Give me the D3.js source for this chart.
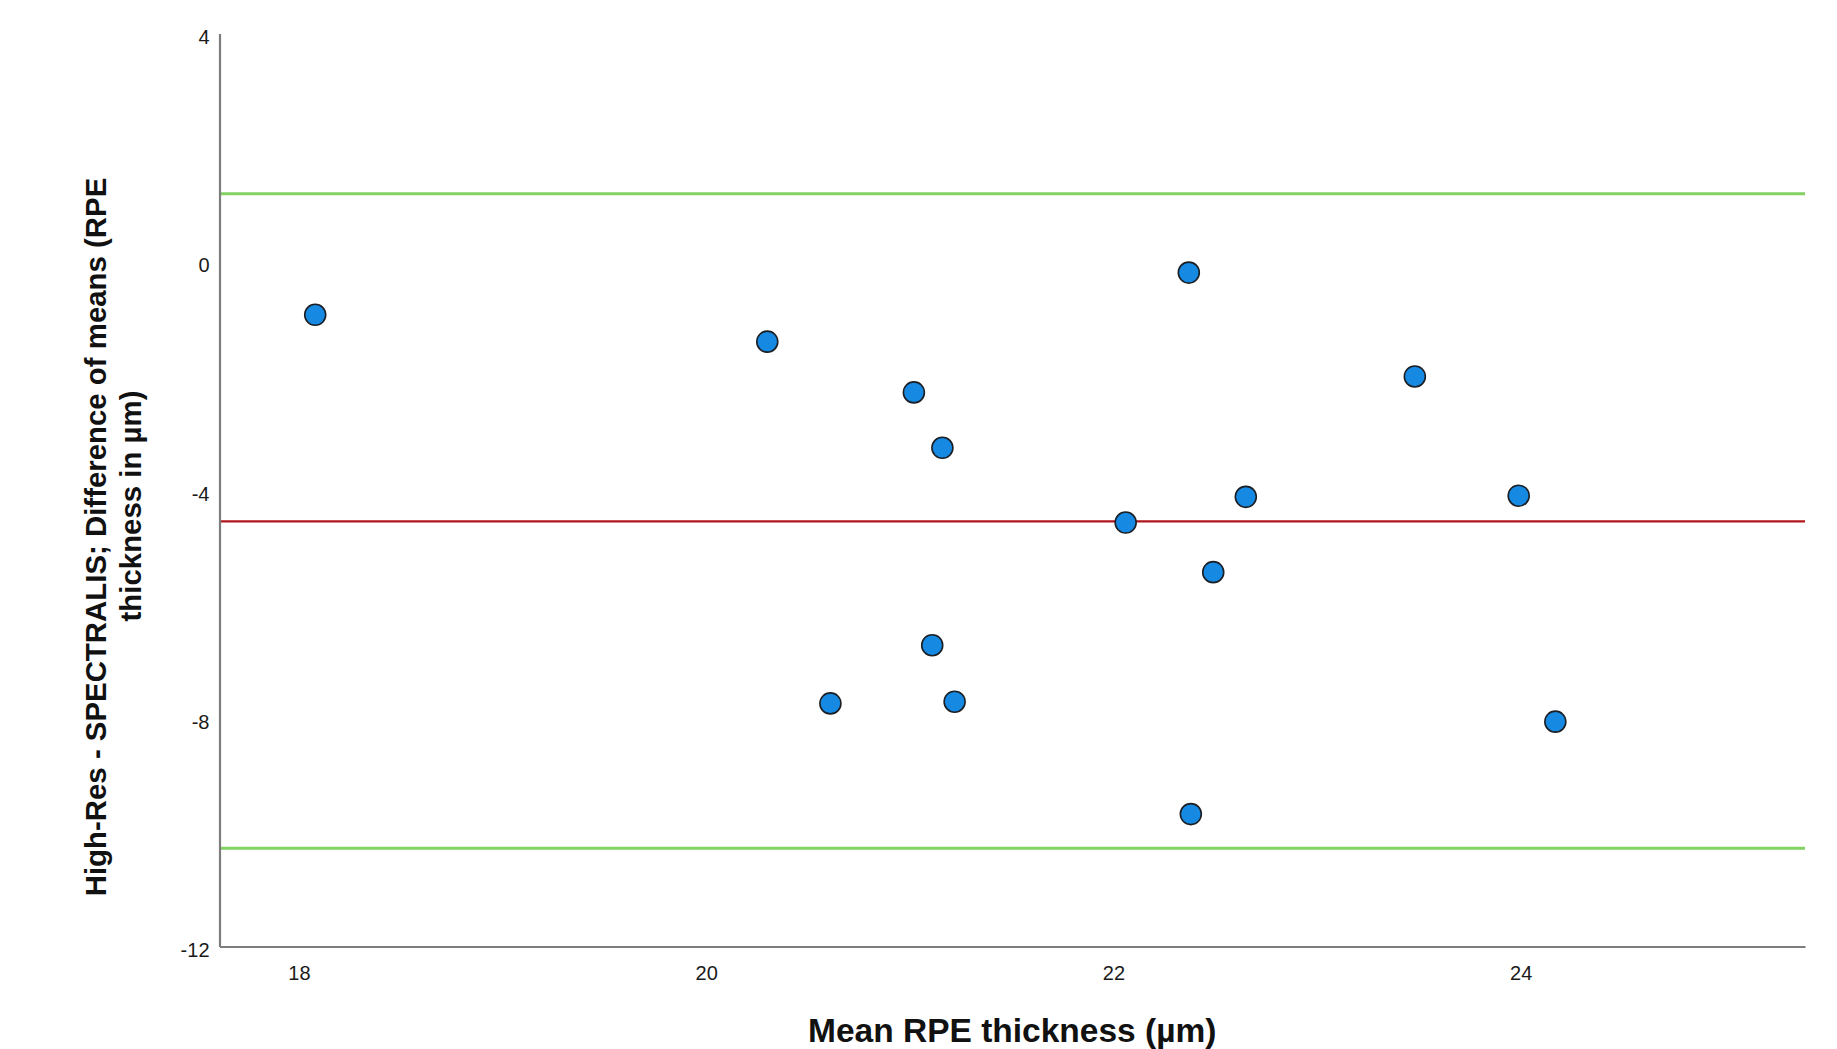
<!DOCTYPE html>
<html>
<head>
<meta charset="utf-8">
<script src="https://cdn.jsdelivr.net/npm/d3@7"></script>
<style>
  body { margin: 0; background: #fff; }
  text { font-family: "Liberation Sans", Arial, sans-serif; }
</style>
</head>
<body>
<svg id="chart" width="1837" height="1049"></svg>
<script>
// Bland-Altman data
var meanThickness = [18.08, 20.30, 21.02, 21.16, 22.37, 23.48, 22.65, 23.99, 22.06, 22.49, 21.11, 20.61, 21.22, 24.17, 22.38];
var diffThickness = [-0.93, -1.40, -2.29, -3.26, -0.19, -2.01, -4.12, -4.10, -4.57, -5.44, -6.72, -7.74, -7.71, -8.06, -9.68];
var meanDiff = -4.55;
var upperLoA = 1.19;
var lowerLoA = -10.28;
var xTicks = [18, 20, 22, 24];
var yTicks = [4, 0, -4, -8, -12];
var xTitle = "Mean RPE thickness (µm)";
var yTitle = ["High-Res - SPECTRALIS; Difference of means (RPE", "thickness in µm)"];

var svg = d3.select("#chart");

// Scales
var x = d3.scaleLinear().domain([17.61, 25.396]).range([219.5, 1805]);
var y = d3.scaleLinear().domain([-12, 4]).range([946.5, 33.5]);

// Reference lines (limits of agreement + mean)
var refLines = [
    {"v": upperLoA, "color": "#82d163", "w": 3},
    {"v": lowerLoA, "color": "#82d163", "w": 3},
    {"v": meanDiff, "color": "#b0161c", "w": 2.2}
];
svg.append("g").selectAll("line")
    .data(refLines)
    .enter().append("line")
    .attr("x1", x.range()[0])
    .attr("x2", x.range()[1])
    .attr("y1", function (d) { return y(d.v); })
    .attr("y2", function (d) { return y(d.v); })
    .attr("stroke", function (d) { return d.color; })
    .attr("stroke-width", function (d) { return d.w; });

// Axes - plain hyphen for negatives, like the original
var yAxis = svg.append("g")
    .attr("transform", "translate(" + x.range()[0] + ",0)")
    .call(d3.axisLeft(y).tickValues(yTicks).tickSize(0).tickSizeOuter(0).tickPadding(10).tickFormat(function (d) { return String(d); }));
yAxis.selectAll("text").attr("dy", "0.5em");

var xAxis = svg.append("g")
    .attr("transform", "translate(0," + y.range()[0] + ")")
    .call(d3.axisBottom(x).tickValues(xTicks).tickSize(0).tickSizeOuter(0).tickPadding(19).tickFormat(function (d) { return String(d); }));

svg.selectAll(".domain").attr("stroke", "#7d7d7d").attr("stroke-width", 2.2);
svg.selectAll(".tick text")
    .attr("font-family", "Liberation Sans, Arial, sans-serif")
    .attr("font-size", 20)
    .attr("fill", "#1a1a1a");

// Points
svg.append("g").selectAll("circle")
    .data(meanThickness)
    .enter().append("circle")
    .attr("cx", function (d) { return x(d); })
    .attr("cy", function (d, i) { return y(diffThickness[i]); })
    .attr("r", 10.5)
    .attr("fill", "#1689e3")
    .attr("stroke", "#1b1f24")
    .attr("stroke-width", 1.6);

// Axis titles
svg.append("text")
    .attr("x", (x.range()[0] + x.range()[1]) / 2)
    .attr("y", 1042)
    .attr("text-anchor", "middle")
    .attr("font-size", 33.5)
    .attr("font-weight", "bold")
    .attr("fill", "#111")
    .text(xTitle);

var yTitlePos = [{"bx": 106, "cy": 537}, {"bx": 141, "cy": 506}];
svg.append("g").selectAll("text")
    .data(yTitle)
    .enter().append("text")
    .attr("transform", function (d, i) { return "translate(" + yTitlePos[i].bx + "," + yTitlePos[i].cy + ") rotate(-90)"; })
    .attr("text-anchor", "middle")
    .attr("font-size", 29.4)
    .attr("font-weight", "bold")
    .attr("fill", "#111")
    .text(function (d) { return d; });
</script>
</body>
</html>
